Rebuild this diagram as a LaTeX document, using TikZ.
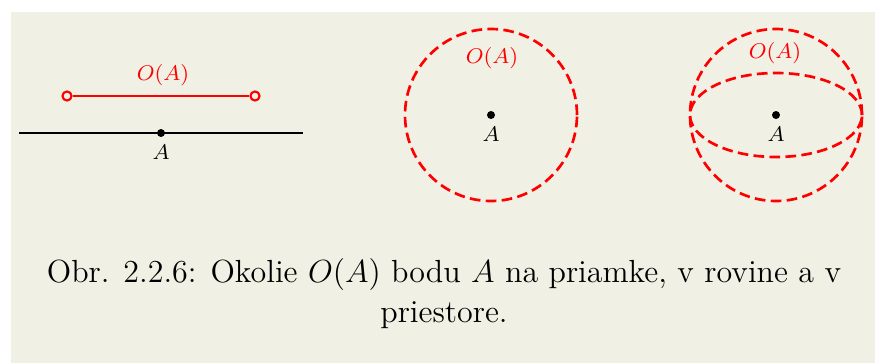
\documentclass[tikz,border=0pt]{standalone}
\usepackage{amsmath}
\usepackage{tikz}
\usetikzlibrary{positioning}
\usepackage{xcolor}
\definecolor{paper}{RGB}{241,240,229}

\begin{document}
\begin{tikzpicture}[
  x=0.375pt, y=0.375pt,
  dot/.style={circle, fill=black, inner sep=0pt, minimum size=3pt},
  hole/.style={circle, draw=red, fill=paper, line width=0.8pt, inner sep=0pt, minimum size=3.4pt},
  lbl/.style={inner sep=0pt, font=\fontsize{8.5}{10}\selectfont},
  olbl/.style={lbl, text=red},
  nbhd/.style={red, line width=1pt, dash pattern=on 4pt off 2pt},
  capt/.style={align=center, inner sep=0pt, font=\fontsize{12}{15}\selectfont},
]
\useasboundingbox (0,0) rectangle (875,363);
\fill[paper] (11,0) rectangle (875,351);

% na priamke
\coordinate (lineL) at (19,230);
\coordinate (lineR) at (303,230);
\draw[line width=1pt] (lineL) -- (lineR);
\node[dot] (A1) at (161,230) {};
\node[lbl, below=2.5pt of A1] (A1lbl) {$A$};
\node[hole] (segL) at (67,267) {};
\node[hole] (segR) at (255,267) {};
\draw[red, line width=0.8pt] (segL) -- (segR);
\node[olbl] (O1) at (163,288) {$O(A)$};

% v rovine
\node[dot] (A2) at (491,248) {};
\draw[nbhd] (A2.center) circle (86);
\node[lbl, below=2.5pt of A2] (A2lbl) {$A$};
\node[olbl] (O2) at (492,305) {$O(A)$};

% v priestore
\node[dot] (A3) at (776,248) {};
\draw[nbhd] (A3.center) circle (86);
\draw[nbhd] (A3.center) ellipse [x radius=86, y radius=42];
\node[lbl, below=2.5pt of A3] (A3lbl) {$A$};
\node[olbl] (O3) at (775,310) {$O(A)$};

\node[capt] (caption) at (444,69) {Obr. 2.2.6: Okolie $O(A)$ bodu $A$ na priamke, v rovine a v\\ priestore.};
\end{tikzpicture}
\end{document}
